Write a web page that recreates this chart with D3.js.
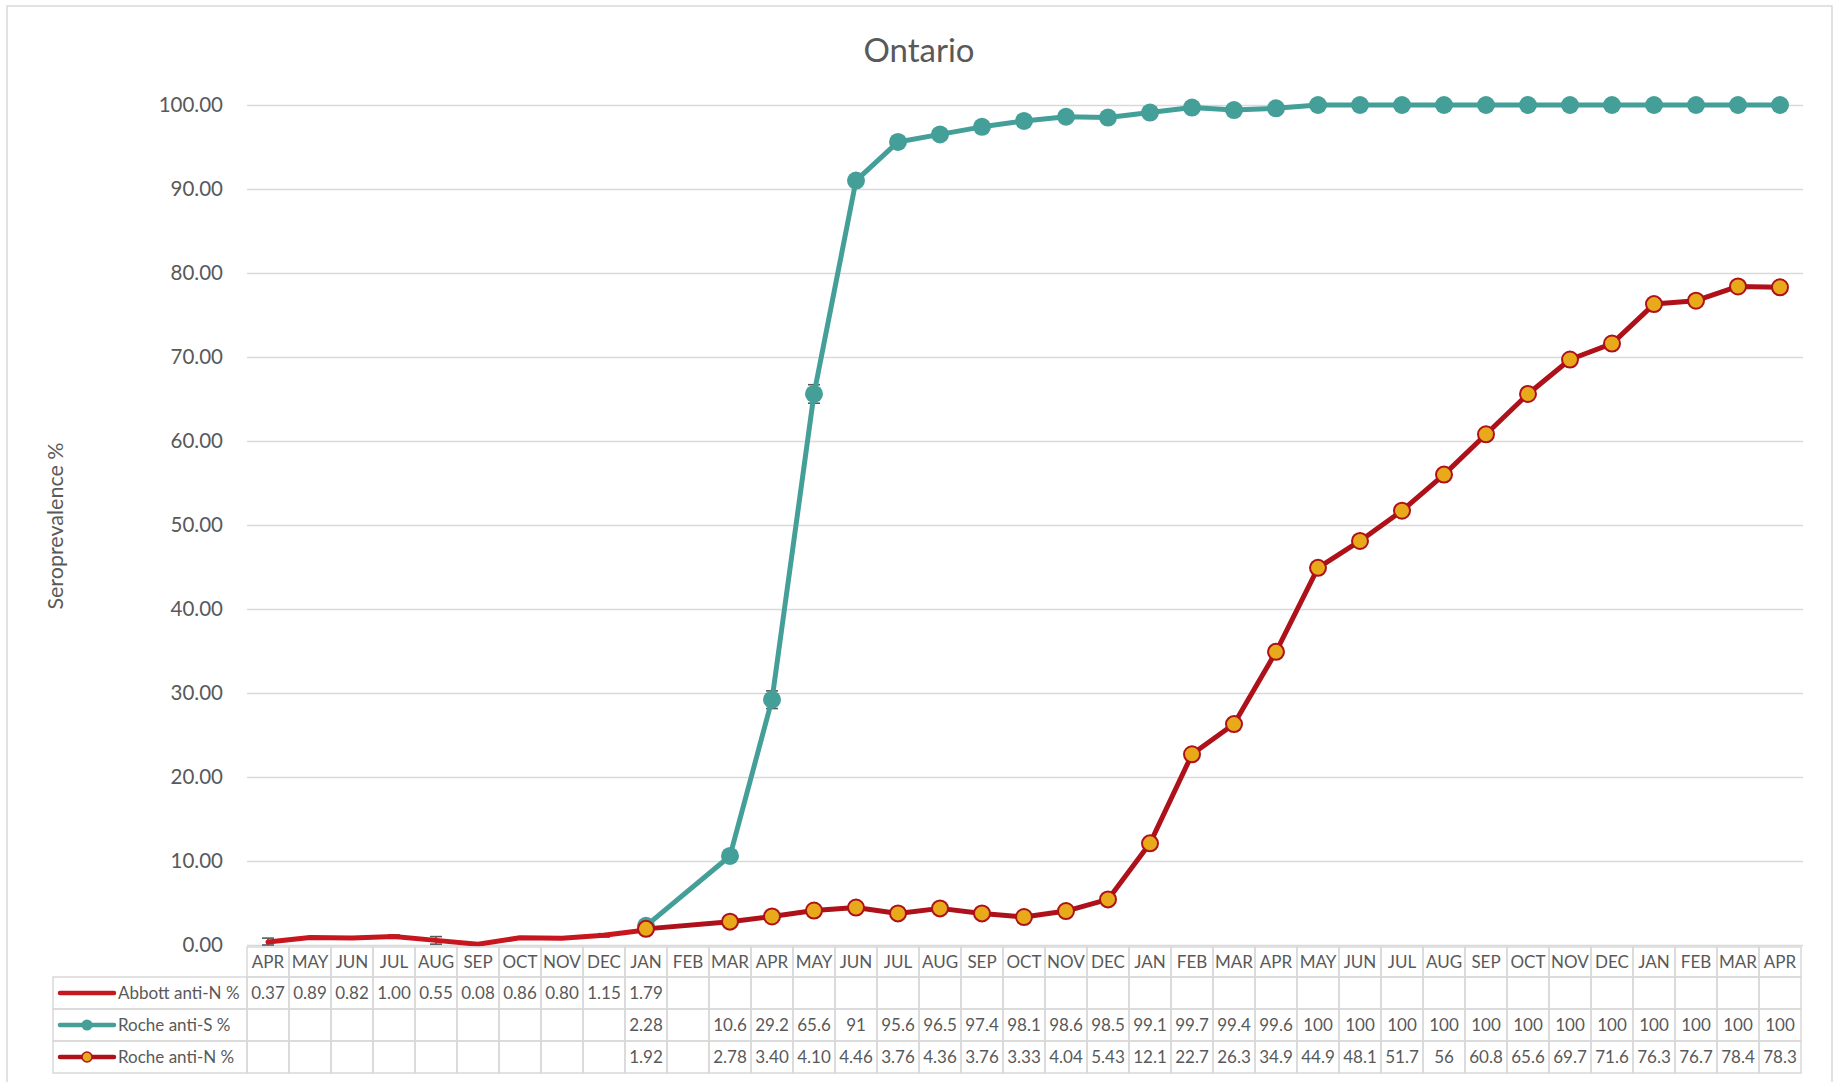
<!DOCTYPE html>
<html>
<head>
<meta charset="utf-8">
<script src="https://cdn.jsdelivr.net/npm/d3@7"></script>
<style>
  html, body { margin: 0; padding: 0; background: #fff; }
  svg { display: block; font-family: Lato, "Open Sans", sans-serif; }
</style>
</head>
<body>
<svg id="chart" width="1835" height="1082"></svg>
<script>
// Monthly sampling periods, April 2020 through April 2023
const months = ["APR","MAY","JUN","JUL","AUG","SEP","OCT","NOV","DEC",
  "JAN","FEB","MAR","APR","MAY","JUN","JUL","AUG","SEP","OCT","NOV","DEC",
  "JAN","FEB","MAR","APR","MAY","JUN","JUL","AUG","SEP","OCT","NOV","DEC",
  "JAN","FEB","MAR","APR"];

const seriesNames = ["Abbott anti-N %", "Roche anti-S %", "Roche anti-N %"];

// Seroprevalence (%) per month; null where not measured
const abbottN = [0.37, 0.89, 0.82, 1.00, 0.55, 0.08, 0.86, 0.80, 1.15, 1.79,
  null, null, null, null, null, null, null, null, null, null, null,
  null, null, null, null, null, null, null, null, null, null, null, null,
  null, null, null, null];

const rocheS = [null, null, null, null, null, null, null, null, null,
  2.28, null, 10.6, 29.2, 65.6, 91, 95.6, 96.5, 97.4, 98.1, 98.6, 98.5,
  99.1, 99.7, 99.4, 99.6, 100, 100, 100, 100, 100, 100, 100, 100,
  100, 100, 100, 100];

const rocheN = [null, null, null, null, null, null, null, null, null,
  1.92, null, 2.78, 3.40, 4.10, 4.46, 3.76, 4.36, 3.76, 3.33, 4.04, 5.43,
  12.1, 22.7, 26.3, 34.9, 44.9, 48.1, 51.7, 56, 60.8, 65.6, 69.7, 71.6,
  76.3, 76.7, 78.4, 78.3];

// Half-widths of the confidence intervals that show past the line / markers
const abbottErr = [0.45, null, null, 0.2, 0.45, null, null, null, 0.2, null];
const rocheSErr = [null, null, null, null, null, null, null, null, null,
  null, null, null, 1.05, 1.1];

const yTicks = [0, 10, 20, 30, 40, 50, 60, 70, 80, 90, 100];

// ---- styling ----
const textColor = "#595959";
const gridColor = "#d9d9d9";
const abbottColor = "#c8161f";
const tealColor = "#449f99";
const rocheNColor = "#ae1119";
const orangeFill = "#e8a91a";

const svg = d3.select("#chart");

const plotLeft = 247, plotRight = 1801, plotTop = 105, plotBottom = 945;

const x = d3.scaleBand().domain(d3.range(months.length)).range([plotLeft, plotRight]);
const y = d3.scaleLinear().domain([0, 100]).range([plotBottom, plotTop]);
const cx = i => x(i) + x.bandwidth() / 2;

// chart frame
svg.append("rect")
  .attr("x", 7).attr("y", 6).attr("width", 1825).attr("height", 1100)
  .attr("fill", "#fff").attr("stroke", gridColor).attr("stroke-width", 1.5);

// title
svg.append("text")
  .attr("x", 919).attr("y", 62)
  .attr("text-anchor", "middle")
  .attr("font-size", 33)
  .attr("fill", textColor)
  .text("Ontario");

// y axis with gridlines
const yAxis = d3.axisLeft(y)
  .tickValues(yTicks)
  .tickFormat(d3.format(".2f"))
  .tickSizeInner(-(plotRight - plotLeft + 2))
  .tickSizeOuter(0)
  .tickPadding(24);

const gy = svg.append("g")
  .attr("transform", `translate(${plotLeft},0)`)
  .call(yAxis);
gy.select(".domain").remove();
gy.selectAll(".tick line").attr("stroke", gridColor).attr("stroke-width", 1.5);
gy.selectAll(".tick text")
  .attr("fill", textColor)
  .attr("font-size", 20.5)
  .attr("font-family", "Lato, sans-serif");

// y axis title
svg.append("text")
  .attr("transform", "translate(63,526) rotate(-90)")
  .attr("text-anchor", "middle")
  .attr("font-size", 21.5)
  .attr("fill", textColor)
  .text("Seroprevalence %");

// helpers
const points = arr => arr.map((v, i) => ({ i, v })).filter(d => d.v != null);
const line = d3.line().x(d => cx(d.i)).y(d => y(d.v));

function errorBars(values, errs) {
  const g = svg.append("g").attr("stroke", textColor).attr("stroke-width", 1.6).attr("fill", "none");
  errs.forEach((e, i) => {
    if (e == null || values[i] == null) return;
    const xc = cx(i), y1 = y(values[i] + e), y0 = y(Math.max(0, values[i] - e));
    g.append("line").attr("x1", xc).attr("x2", xc).attr("y1", y1).attr("y2", y0);
    g.append("line").attr("x1", xc - 6).attr("x2", xc + 6).attr("y1", y1).attr("y2", y1);
    g.append("line").attr("x1", xc - 6).attr("x2", xc + 6).attr("y1", y0).attr("y2", y0);
  });
}

// Abbott anti-N
errorBars(abbottN, abbottErr);
svg.append("path")
  .datum(points(abbottN))
  .attr("d", line)
  .attr("fill", "none")
  .attr("stroke", abbottColor)
  .attr("stroke-width", 5)
  .attr("stroke-linejoin", "round")
  .attr("stroke-linecap", "round");

// Roche anti-S
errorBars(rocheS, rocheSErr);
svg.append("path")
  .datum(points(rocheS))
  .attr("d", line)
  .attr("fill", "none")
  .attr("stroke", tealColor)
  .attr("stroke-width", 5)
  .attr("stroke-linejoin", "round");
svg.append("g").selectAll("circle")
  .data(points(rocheS))
  .join("circle")
  .attr("cx", d => cx(d.i)).attr("cy", d => y(d.v))
  .attr("r", 9)
  .attr("fill", tealColor);

// Roche anti-N
svg.append("path")
  .datum(points(rocheN))
  .attr("d", line)
  .attr("fill", "none")
  .attr("stroke", rocheNColor)
  .attr("stroke-width", 5)
  .attr("stroke-linejoin", "round");
svg.append("g").selectAll("circle")
  .data(points(rocheN))
  .join("circle")
  .attr("cx", d => cx(d.i)).attr("cy", d => y(d.v))
  .attr("r", 8)
  .attr("fill", orangeFill)
  .attr("stroke", rocheNColor)
  .attr("stroke-width", 2);

// ---- data table below the plot ----
const tableTop = 947, headerH = 30, rowH = 32, legendLeft = 53;
const table = svg.append("g");
const fmt = v => v == null ? "" : (v < 10 ? v.toFixed(2) : (Number.isInteger(v) ? String(v) : v.toFixed(1)));

// header cells
months.forEach((m, i) => {
  table.append("rect")
    .attr("x", x(i)).attr("y", tableTop)
    .attr("width", x.bandwidth()).attr("height", headerH)
    .attr("fill", "none").attr("stroke", gridColor).attr("stroke-width", 1.5);
  table.append("text")
    .attr("x", cx(i)).attr("y", tableTop + headerH / 2)
    .attr("dy", "0.36em")
    .attr("text-anchor", "middle")
    .attr("font-size", 17)
    .attr("fill", textColor)
    .text(m);
});

const rows = [
  { name: seriesNames[0], values: abbottN, kind: "plain", color: abbottColor },
  { name: seriesNames[1], values: rocheS, kind: "teal", color: tealColor },
  { name: seriesNames[2], values: rocheN, kind: "orange", color: rocheNColor }
];

rows.forEach((r, k) => {
  const top = tableTop + headerH + k * rowH;
  const mid = top + rowH / 2;
  // legend cell
  table.append("rect")
    .attr("x", legendLeft).attr("y", top)
    .attr("width", plotLeft - legendLeft).attr("height", rowH)
    .attr("fill", "none").attr("stroke", gridColor).attr("stroke-width", 1.5);
  table.append("line")
    .attr("x1", 60).attr("x2", 114).attr("y1", mid).attr("y2", mid)
    .attr("stroke", r.color).attr("stroke-width", 4.5).attr("stroke-linecap", "round");
  if (r.kind === "teal") {
    table.append("circle").attr("cx", 87).attr("cy", mid).attr("r", 5.5).attr("fill", tealColor);
  } else if (r.kind === "orange") {
    table.append("circle").attr("cx", 87).attr("cy", mid).attr("r", 5)
      .attr("fill", orangeFill).attr("stroke", rocheNColor).attr("stroke-width", 1.5);
  }
  table.append("text")
    .attr("x", 118).attr("y", mid).attr("dy", "0.36em")
    .attr("font-size", 17).attr("fill", textColor)
    .text(r.name);
  // value cells
  months.forEach((m, i) => {
    table.append("rect")
      .attr("x", x(i)).attr("y", top)
      .attr("width", x.bandwidth()).attr("height", rowH)
      .attr("fill", "none").attr("stroke", gridColor).attr("stroke-width", 1.5);
    table.append("text")
      .attr("x", cx(i)).attr("y", mid).attr("dy", "0.36em")
      .attr("text-anchor", "middle")
      .attr("font-size", 17)
      .attr("fill", textColor)
      .text(fmt(r.values[i]));
  });
});
</script>
</body>
</html>
